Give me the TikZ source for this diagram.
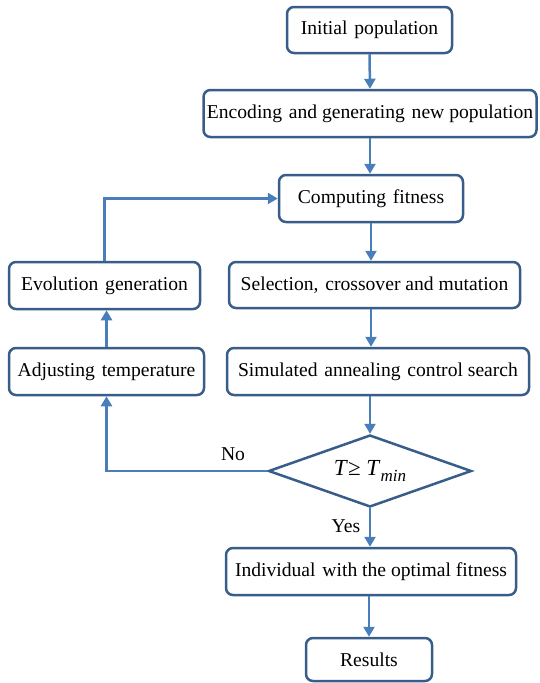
\documentclass[tikz,border=0pt]{standalone}
\usepackage{fontspec}
\setmainfont{Liberation Serif}
\usetikzlibrary{arrows.meta,shapes.geometric}
\definecolor{boxc}{HTML}{385D8A}
\definecolor{linec}{HTML}{4A7EBB}
\newcommand{\wsp}{\hspace{0.35em}}
\begin{document}
\begin{tikzpicture}[x=1pt,y=-1pt, font=\fontsize{19.6}{22}\selectfont,
  box/.style={draw=boxc, line width=2.5pt, rounded corners=7pt, fill=white, inner sep=0pt, align=center},
  flow/.style={draw=linec, line width=2.5pt, -{Triangle[width=11pt,length=10pt]}},
  lab/.style={inner sep=0pt}]
\useasboundingbox (0,0) rectangle (539,683);
\node[box, minimum width=165pt, minimum height=46pt] (init) at (369.5,30) {Initial\wsp population};
\node[box, minimum width=333pt, minimum height=47pt] (enc) at (370,113.5) {Encoding\wsp and generating\wsp new population};
\node[box, minimum width=184pt, minimum height=47pt] (comp) at (371,198.5) {Computing\wsp fitness};
\node[box, minimum width=291pt, minimum height=46pt] (sel) at (374.5,285) {Selection,\wsp crossover and mutation};
\node[box, minimum width=302pt, minimum height=47pt] (sim) at (378,371.5) {Simulated\wsp annealing\wsp control search};
\node[box, minimum width=191pt, minimum height=47pt] (evo) at (104.5,285.5) {Evolution\wsp generation};
\node[box, minimum width=195pt, minimum height=47pt] (adj) at (106.5,371.5) {Adjusting\wsp temperature};
\node[diamond, draw=boxc, line width=2.5pt, fill=white, inner sep=0pt, shape aspect=2.8,
      minimum width=203pt, minimum height=72pt] (dia) at (370,471)
      {\fontsize{23}{26}\selectfont\textit{T}≥ \textit{T}\raisebox{-0.3em}{\fontsize{17}{20}\selectfont\textit{min}}};
\node[box, minimum width=290pt, minimum height=47pt] (ind) at (371,571.5) {Individual\wsp with the optimal fitness};
\node[box, minimum width=126pt, minimum height=43pt] (res) at (369,659.5) {Results};
\node[lab] (no) at (233,454) {No};
\node[lab] (yes) at (346,526) {Yes};
\draw[flow] (init.south) -- (enc.north);
\draw[flow] (enc.south) -- (comp.north -| enc.south);
\draw[flow] (comp.south) -- (sel.north -| comp.south);
\draw[flow] (sel.south -| comp.south) -- (sim.north -| comp.south);
\draw[flow] (sim.south -| dia.north) -- (dia.north);
\draw[flow] (dia.south) -- (ind.north -| dia.south);
\draw[flow] (ind.south -| res.north) -- (res.north);
\draw[flow] (dia.west) -| (adj.south);
\draw[flow] (adj.north) -- (adj.north |- evo.south);
\draw[flow] (evo.north) |- (comp.west);
\end{tikzpicture}
\end{document}
